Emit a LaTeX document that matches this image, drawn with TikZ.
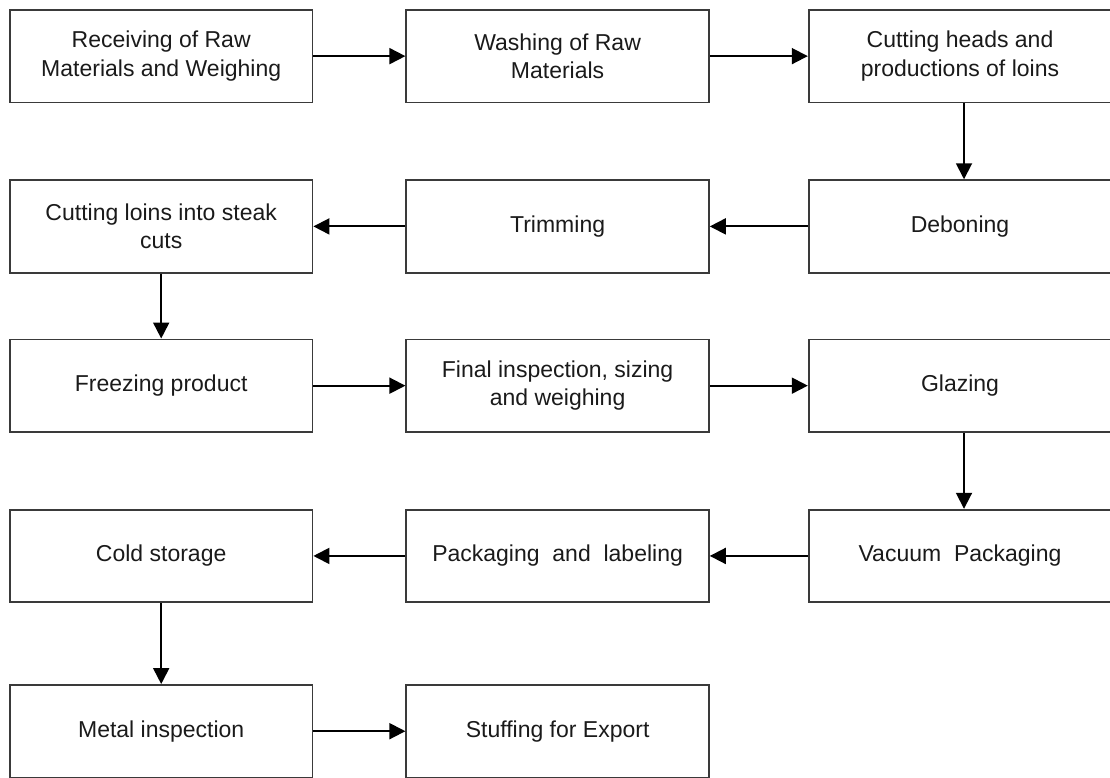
\documentclass[tikz,border=0pt]{standalone}
\usepackage{fontspec}
\setmainfont{Liberation Sans}
\usetikzlibrary{arrows.meta, positioning}
\definecolor{boxline}{HTML}{3A3A3A}
\definecolor{textdark}{HTML}{1A1A1A}

\begin{document}
\begin{tikzpicture}[
    % ── Node styles ──────────────────────────────────────────────────────
    stepbox/.style={
        draw=boxline, rectangle, minimum width=227pt, minimum height=69.4pt,
        font=\fontsize{17.25}{21.5}\selectfont,
        text=textdark, align=center, inner sep=4pt,
        line width=1.3pt
    },
    % ── Arrow style ──────────────────────────────────────────────────────
    arr/.style={
        -{Triangle[length=12pt, width=12pt]},
        line width=1.4pt, color=black
    }
]

% page frame
\useasboundingbox (0,0) rectangle (832.5pt,-583.5pt);
\clip (0,0) rectangle (832.5pt,-583.5pt);

% ═══════════════════════════════════════════════════════════════════════════
% Row 1 (left to right)
% ═══════════════════════════════════════════════════════════════════════════
\node[stepbox, anchor=north west] (receive) at (6.75pt,-6.75pt)
    {Receiving of Raw\\Materials and Weighing};
\node[stepbox, right=69pt of receive] (wash)
    {Washing of Raw\\Materials};
\node[stepbox, right=73.5pt of wash] (heads)
    {Cutting heads and\\productions of loins};

% ═══════════════════════════════════════════════════════════════════════════
% Row 2 (right to left)
% ═══════════════════════════════════════════════════════════════════════════
\node[stepbox, below=57pt of heads] (debone) {Deboning};
\node[stepbox, left=73.5pt of debone] (trim) {Trimming};
\node[stepbox, left=69pt of trim] (steak)
    {Cutting loins into steak\\cuts};

% ═══════════════════════════════════════════════════════════════════════════
% Row 3 (left to right)
% ═══════════════════════════════════════════════════════════════════════════
\node[stepbox, below=48.75pt of steak] (freeze) {Freezing product};
\node[stepbox, right=69pt of freeze] (inspect)
    {Final inspection, sizing\\and weighing};
\node[stepbox, right=73.5pt of inspect] (glaze) {Glazing};

% ═══════════════════════════════════════════════════════════════════════════
% Row 4 (right to left)
% ═══════════════════════════════════════════════════════════════════════════
\node[stepbox, below=57pt of glaze] (vacuum) {Vacuum\ \ Packaging};
\node[stepbox, left=73.5pt of vacuum] (label) {Packaging\ \ and\ \ labeling};
\node[stepbox, left=69pt of label] (cold) {Cold storage};

% ═══════════════════════════════════════════════════════════════════════════
% Row 5 (left to right)
% ═══════════════════════════════════════════════════════════════════════════
\node[stepbox, below=60.75pt of cold] (metal) {Metal inspection};
\node[stepbox, right=69pt of metal] (export) {Stuffing for Export};

% ═══════════════════════════════════════════════════════════════════════════
% Arrows
% ═══════════════════════════════════════════════════════════════════════════
\draw[arr] (receive) -- (wash);
\draw[arr] (wash)    -- (heads);
\draw[arr] ([xshift=3pt]heads.south) -- ([xshift=3pt]debone.north);
\draw[arr] (debone)  -- (trim);
\draw[arr] (trim)    -- (steak);
\draw[arr] (steak)   -- (freeze);
\draw[arr] (freeze)  -- (inspect);
\draw[arr] (inspect) -- (glaze);
\draw[arr] ([xshift=3pt]glaze.south) -- ([xshift=3pt]vacuum.north);
\draw[arr] (vacuum)  -- (label);
\draw[arr] (label)   -- (cold);
\draw[arr] (cold)    -- (metal);
\draw[arr] (metal)   -- (export);

\end{tikzpicture}
\end{document}
